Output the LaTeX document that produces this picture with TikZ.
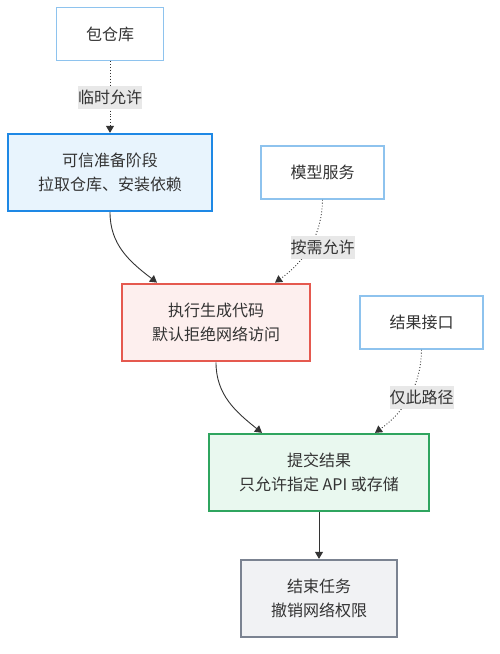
\documentclass[tikz,border=0pt]{standalone}
\usepackage{fontspec}
\setmainfont{Noto Sans CJK SC}
\usetikzlibrary{arrows.meta}

\definecolor{txt}{HTML}{333333}
\definecolor{lineclr}{HTML}{333333}
\definecolor{srcline}{HTML}{8EC3EE}
\definecolor{prepfill}{HTML}{E8F4FD}
\definecolor{prepline}{HTML}{1E88E5}
\definecolor{runfill}{HTML}{FDEFEE}
\definecolor{runline}{HTML}{E5594F}
\definecolor{sendfill}{HTML}{E9F8EF}
\definecolor{sendline}{HTML}{2FA55F}
\definecolor{endfill}{HTML}{F1F2F4}
\definecolor{endline}{HTML}{7B8391}
\definecolor{lblfill}{HTML}{E8E8E8}

\tikzset{
  box/.style={draw, text=txt, align=center, inner sep=0pt,
    font=\fontsize{16}{24}\selectfont},
  srcbox/.style={box, draw=srcline, fill=white, line width=1.6pt,
    minimum width=107pt, minimum height=53pt},
  stagebox/.style={box, line width=2.3pt, minimum height=77pt},
  lbl/.style={fill=lblfill, text=txt, inner sep=0pt, minimum width=64pt,
    minimum height=23pt, font=\fontsize{16}{24}\selectfont},
  flow/.style={lineclr, line width=0.9pt, -{Triangle[length=7pt,width=8pt]}},
  allow/.style={flow, dotted}
}

\begin{document}
\begin{tikzpicture}[x=1pt,y=-1pt]
\useasboundingbox (0,0) rectangle (499,654);

% nodes
\node[srcbox] (repo) at (110,34) {包仓库};
\node[stagebox, draw=prepline, fill=prepfill, minimum width=204pt] (prep) at (110,172.5) {可信准备阶段\\拉取仓库、安装依赖};
\node[srcbox, minimum width=123pt] (model) at (322.5,172.5) {模型服务};
\node[stagebox, draw=runline, fill=runfill, line width=2.8pt, minimum width=188pt] (run) at (216,322.5) {执行生成代码\\默认拒绝网络访问};
\node[srcbox, minimum width=123pt] (api) at (421.5,322.5) {结果接口};
\node[stagebox, draw=sendline, fill=sendfill, minimum width=220pt] (send) at (319,472.5) {提交结果\\只允许指定 API 或存储};
\node[stagebox, draw=endline, fill=endfill, minimum width=156pt] (done) at (319,598.5) {结束任务\\撤销网络权限};

% edges
\draw[allow] (repo) -- (prep);
\node[lbl] (l1) at (110,97.5) {临时允许};
\draw[flow] (prep.south) .. controls (110,245) and (130,262) .. ([xshift=-59pt]run.north);
\draw[allow] (model.south) .. controls (322,240) and (300,265) .. ([xshift=59pt]run.north);
\node[lbl] (l2) at (322.5,247.5) {按需允许};
\draw[flow] (run.south) .. controls (216,395) and (236,412) .. ([xshift=-57pt]send.north);
\draw[allow] (api.south) .. controls (421,390) and (400,415) .. ([xshift=56pt]send.north);
\node[lbl] (l3) at (421.5,397.5) {仅此路径};
\draw[flow] (send) -- (done);

\end{tikzpicture}
\end{document}
